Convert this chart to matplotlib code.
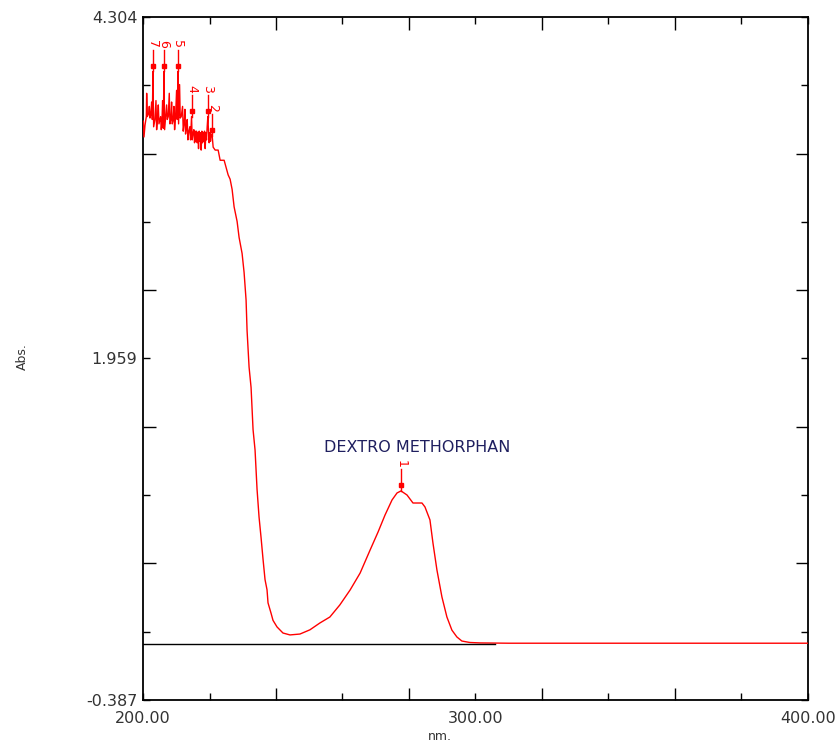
import matplotlib
matplotlib.use("Agg")
import matplotlib.pyplot as plt
from matplotlib.ticker import FixedLocator, FixedFormatter, NullFormatter

# spectrum (nm, Abs.)
wavelength = [200.0, 200.1, 200.3, 200.6, 201.0, 201.1, 201.3, 201.7, 201.9, 202.1,
              202.4, 202.6, 202.8, 203.0, 203.2, 203.6, 203.9, 204.1, 204.4, 204.6,
              204.8, 205.1, 205.3, 205.5, 205.7, 205.9, 206.1, 206.3, 206.5, 206.8,
              207.1, 207.3, 207.6, 207.9, 208.1, 208.4, 208.6, 208.8, 209.1, 209.3,
              209.5, 209.8, 210.1, 210.3, 210.5, 210.7, 211.0, 211.2, 211.5, 211.9,
              212.1, 212.4, 212.6, 212.8, 213.1, 213.3, 213.5, 213.8, 214.1, 214.3,
              214.6, 214.8, 215.0, 215.3, 215.5, 215.7, 215.9, 216.1, 216.3, 216.5,
              216.7, 216.9, 217.1, 217.3, 217.5, 217.7, 217.9, 218.1, 218.3, 218.5,
              218.7, 218.9, 219.1, 219.3, 219.5, 219.7, 219.9, 220.1, 220.3, 220.5,
              220.8, 221.1, 221.7, 222.6, 223.2, 224.4, 225.0, 225.6, 226.2, 226.8,
              227.4, 228.3, 228.9, 229.8, 230.4, 231.0, 231.3, 231.9, 232.5, 233.1,
              233.7, 234.3, 234.9, 235.5, 236.1, 236.7, 237.3, 237.6, 238.5, 239.1,
              240.3, 242.1, 244.2, 247.2, 250.2, 253.2, 256.2, 259.2, 262.3, 265.3,
              268.3, 270.7, 272.8, 274.9, 276.4, 277.6, 279.4, 281.2, 283.9, 284.8,
              286.3, 287.2, 288.4, 289.9, 291.4, 292.9, 294.4, 295.9, 298.3, 301.4,
              310.0, 400.0]
absorbance = [3.55, 3.59, 3.48, 3.56, 3.62, 3.78, 3.62, 3.64, 3.69, 3.61,
              3.65, 3.72, 3.60, 3.93, 3.55, 3.60, 3.73, 3.53, 3.62, 3.70,
              3.57, 3.60, 3.62, 3.53, 3.58, 3.73, 3.54, 3.93, 3.53, 3.62,
              3.70, 3.60, 3.62, 3.78, 3.57, 3.60, 3.72, 3.57, 3.60, 3.69,
              3.53, 3.62, 3.80, 3.60, 3.93, 3.57, 3.84, 3.61, 3.62, 3.69,
              3.52, 3.58, 3.67, 3.50, 3.55, 3.60, 3.46, 3.52, 3.55, 3.46,
              3.62, 3.46, 3.50, 3.53, 3.44, 3.52, 3.45, 3.52, 3.44, 3.51,
              3.40, 3.52, 3.45, 3.51, 3.39, 3.52, 3.44, 3.51, 3.45, 3.52,
              3.40, 3.51, 3.46, 3.55, 3.62, 3.52, 3.44, 3.51, 3.45, 3.50,
              3.49, 3.41, 3.39, 3.39, 3.32, 3.32, 3.27, 3.22, 3.19, 3.12,
              3.00, 2.90, 2.79, 2.68, 2.55, 2.36, 2.15, 1.90, 1.76, 1.47,
              1.33, 1.06, 0.87, 0.73, 0.58, 0.44, 0.37, 0.28, 0.21, 0.16,
              0.115, 0.073, 0.060, 0.066, 0.095, 0.142, 0.183, 0.266, 0.369, 0.485,
              0.643, 0.767, 0.884, 0.987, 1.035, 1.049, 1.021, 0.966, 0.966, 0.939,
              0.850, 0.692, 0.506, 0.321, 0.183, 0.093, 0.046, 0.018, 0.008, 0.005,
              0.003, 0.003]

peak_nm = [277.6, 220.8, 219.5, 214.6, 210.5, 206.3, 203.0]
peak_abs = [1.049, 3.49, 3.62, 3.62, 3.93, 3.93, 3.93]
peak_labels = ["1", "2", "3", "4", "5", "6", "7"]

x_long = [240, 280, 320, 360]
x_short = [200, 220, 260, 300, 340, 380, 400]
x_short_labels = ["200.00", "", "", "300.00", "", "", "400.00"]
y_long = [0.552, 1.490, 2.428, 3.366]
y_short = [-0.387, 0.083, 1.021, 1.959, 2.897, 3.835, 4.304]
y_short_labels = ["-0.387", "", "", "1.959", "", "", "4.304"]

red = "#ff0000"

fig = plt.figure(figsize=(8.35, 7.44), dpi=100)
ax = fig.add_axes([143 / 835, 44 / 744, 665 / 835, 683 / 744])

ax.plot(wavelength, absorbance, color=red, lw=1.0, zorder=3)
# zero line of the instrument
ax.plot([200, 306], [0, 0], color="black", lw=1.0, zorder=4)

# peak pick markers
for x, y, lab in zip(peak_nm, peak_abs, peak_labels):
    ax.plot([x, x], [y, y + 0.15], color=red, lw=1.0, zorder=5)
    ax.plot(x, y + 0.04, marker="s", ms=3.5, color=red, zorder=5)
    ax.text(x, y + 0.16, lab, color=red, fontsize=9, rotation=270,
            ha="center", va="bottom", zorder=5)

ax.text(282.4, 1.344, "DEXTRO METHORPHAN", color="#1f1f5f", fontsize=11.5,
        ha="center", va="center")

ax.set_xlim(200, 400)
ax.set_ylim(-0.387, 4.304)

ax.xaxis.set_major_locator(FixedLocator(x_long))
ax.xaxis.set_minor_locator(FixedLocator(x_short))
ax.xaxis.set_major_formatter(NullFormatter())
ax.xaxis.set_minor_formatter(FixedFormatter(x_short_labels))
ax.yaxis.set_major_locator(FixedLocator(y_long))
ax.yaxis.set_minor_locator(FixedLocator(y_short))
ax.yaxis.set_major_formatter(NullFormatter())
ax.yaxis.set_minor_formatter(FixedFormatter(y_short_labels))

ax.tick_params(which="both", direction="in", top=True, right=True,
               width=1.0, labelsize=11.5, labelcolor="#333333")
ax.tick_params(which="major", length=9)
ax.tick_params(which="minor", length=5)
ax.tick_params(axis="x", which="both", pad=8)
ax.tick_params(axis="y", which="both", pad=4)

for s in ax.spines.values():
    s.set_linewidth(1.3)

fig.text(22 / 835, 1 - 357 / 744, "Abs.", rotation=90, ha="center",
         va="center", fontsize=9, color="#333333")
fig.text(440 / 835, 1 - 737 / 744, "nm.", ha="center", va="center",
         fontsize=9, color="#333333")

fig.savefig("out.png", dpi=100)
